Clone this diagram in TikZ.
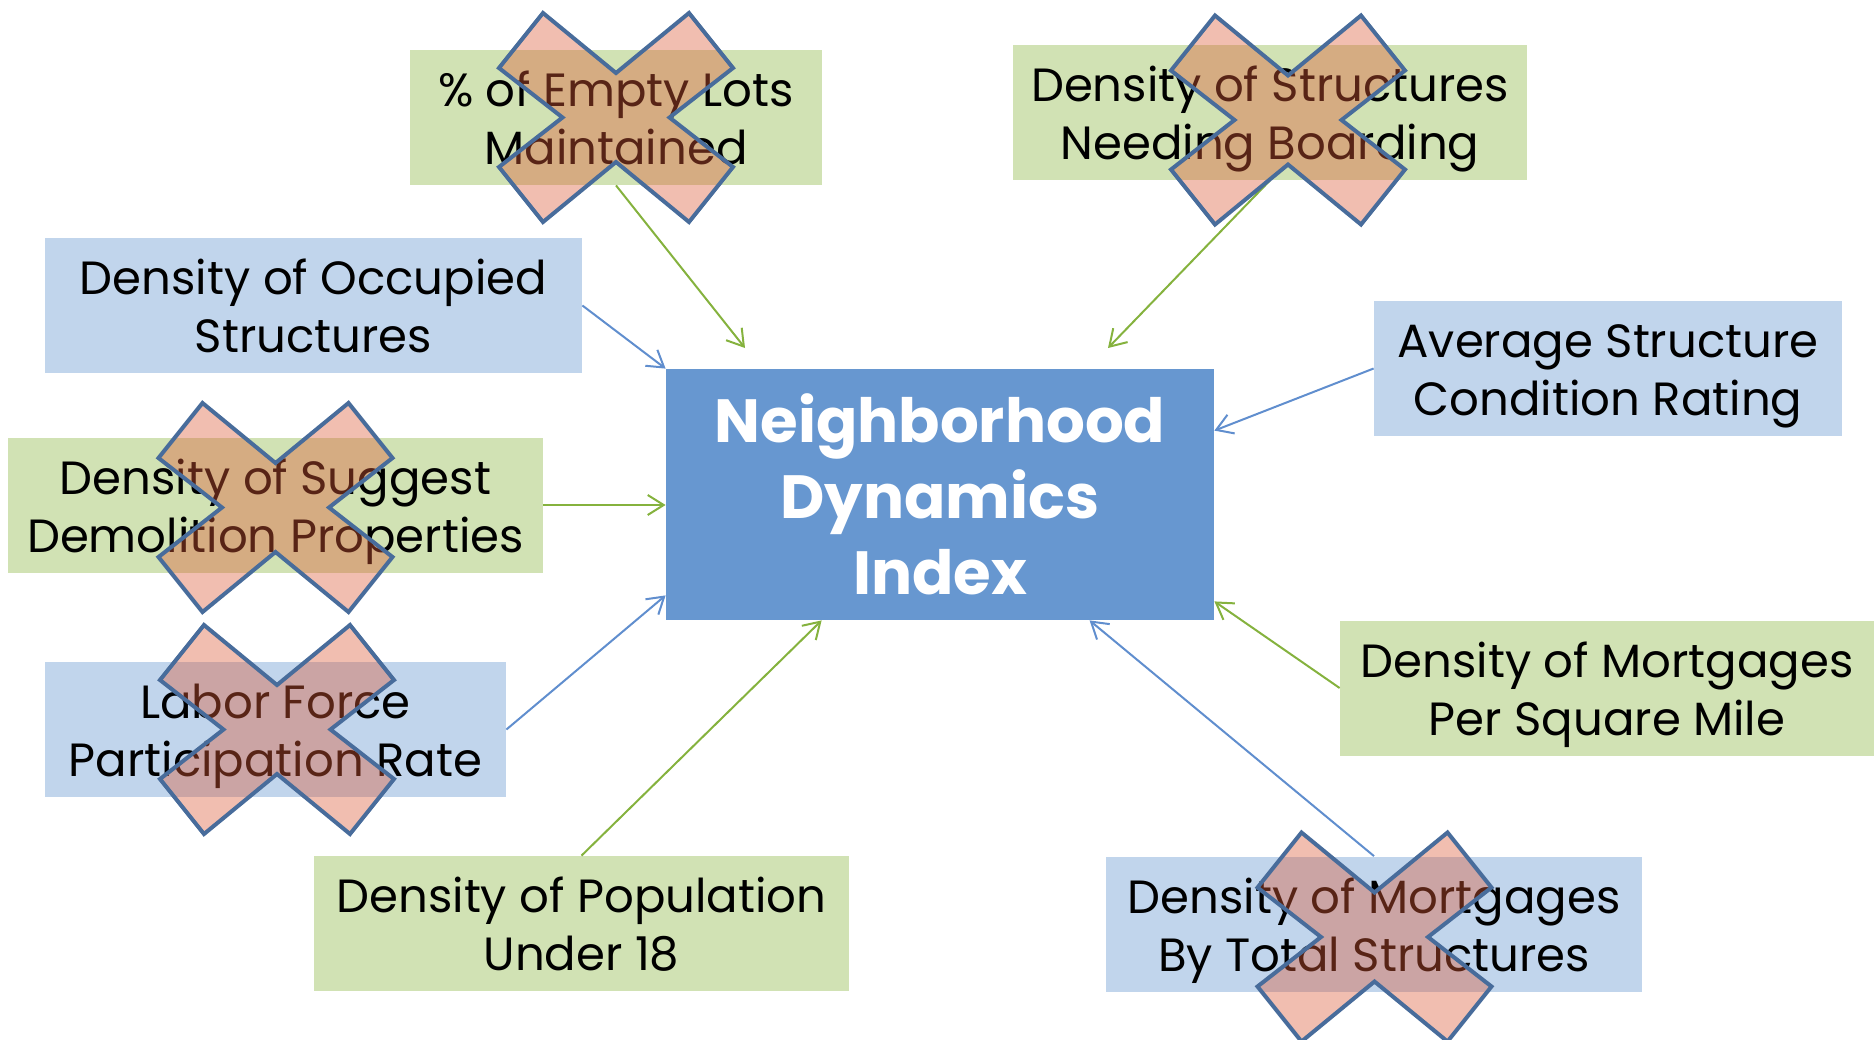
\documentclass[tikz,border=0pt]{standalone}
\usepackage{fontspec}
\setmainfont{Poppins}
\usepackage{tikz}
\usetikzlibrary{arrows.meta,calc}

\definecolor{boxgreen}{RGB}{209,226,180}
\definecolor{boxblue}{RGB}{193,213,236}
\definecolor{hubblue}{RGB}{103,151,208}
\definecolor{linegreen}{RGB}{133,178,62}
\definecolor{lineblue}{RGB}{96,142,206}
\definecolor{xfill}{RGB}{220,92,57}
\definecolor{xedge}{RGB}{72,108,155}

\begin{document}
\begin{tikzpicture}[x=0.5pt,y=-0.5pt,
  factor/.style={align=center,inner sep=0pt,minimum height=67.5pt,
    text height=47pt,text depth=0pt,
    font=\fontsize{23.3}{29}\selectfont},
  gbox/.style={factor,fill=boxgreen},
  bbox/.style={factor,fill=boxblue},
  feed/.style={line width=1pt,-{Straight Barb[length=8pt,width=10pt]}},
  gline/.style={feed,linegreen},
  bline/.style={feed,lineblue},
  redx/.pic={
    \draw[xedge,line width=2pt,fill=xfill,fill opacity=0.4]
      (-73,-104.5) -- (0,-44.5) -- (73,-104.5) -- (117,-49.5) -- (53.5,0)
      -- (117,49.5) -- (73,104.5) -- (0,44.5) -- (-73,104.5) -- (-117,49.5)
      -- (-53.5,0) -- (-117,-49.5) -- cycle;
  }]
  \useasboundingbox (0,0) rectangle (1874,1039);

  % index in the middle
  \node[fill=hubblue,text=white,align=center,minimum width=274pt,minimum height=125.5pt,
    font=\fontsize{30.5}{38}\selectfont\bfseries] (ndi) at (940,494.5)
    {Neighborhood\\Dynamics\\Index};

  % inputs
  \node[gbox,minimum width=206pt] (lots) at (616,117.5) {\% of Empty Lots\\Maintained};
  \node[gbox,minimum width=257pt] (board) at (1270,112.5) {Density of Structures\\Needing Boarding};
  \node[bbox,minimum width=268.5pt] (occ) at (313.5,305.5) {Density of Occupied\\Structures};
  \node[bbox,minimum width=234pt] (cond) at (1608,368.5) {Average Structure\\Condition Rating};
  \node[gbox,minimum width=267.5pt] (demo) at (275.5,505) {Density of Suggest\\Demolition Properties};
  \node[bbox,minimum width=230.5pt] (labor) at (275.5,729.5) {Labor Force\\Participation Rate};
  \node[gbox,minimum width=267.5pt] (young) at (581.5,923.5) {Density of Population\\Under 18};
  \node[bbox,minimum width=268pt] (mtot) at (1374,924) {Density of Mortgages\\By Total Structures};
  \node[gbox,minimum width=267pt] (msq) at (1607,688) {Density of Mortgages\\Per Square Mile};

  % arrows into the index
  \coordinate (lotsend) at (745,348);
  \coordinate (boardend) at (1108,348);
  \draw[gline] (lots.south) -- (lotsend);
  \draw[gline] (board.south) -- (boardend);
  \draw[bline] (occ.east) -- (ndi.north west);
  \draw[bline] (cond.west) -- ($(ndi.north east)+(0,62)$);
  \draw[gline] (demo.east) -- (demo.east -| ndi.west);
  \draw[bline] (labor.east) -- ($(ndi.south west)+(0,-25)$);
  \draw[gline] (young.north) -- ($(ndi.south west)+(156,0)$);
  \draw[bline] (mtot.north) -- ($(ndi.south west)+(424,0)$);
  \draw[gline] (msq.west) -- ($(ndi.south east)+(0,-19)$);

  % dropped inputs
  \pic at (616,117.5) {redx};
  \pic at (1288,120) {redx};
  \pic at (275.5,507.5) {redx};
  \pic at (277,729.5) {redx};
  \pic at (1374.5,937) {redx};
\end{tikzpicture}
\end{document}
